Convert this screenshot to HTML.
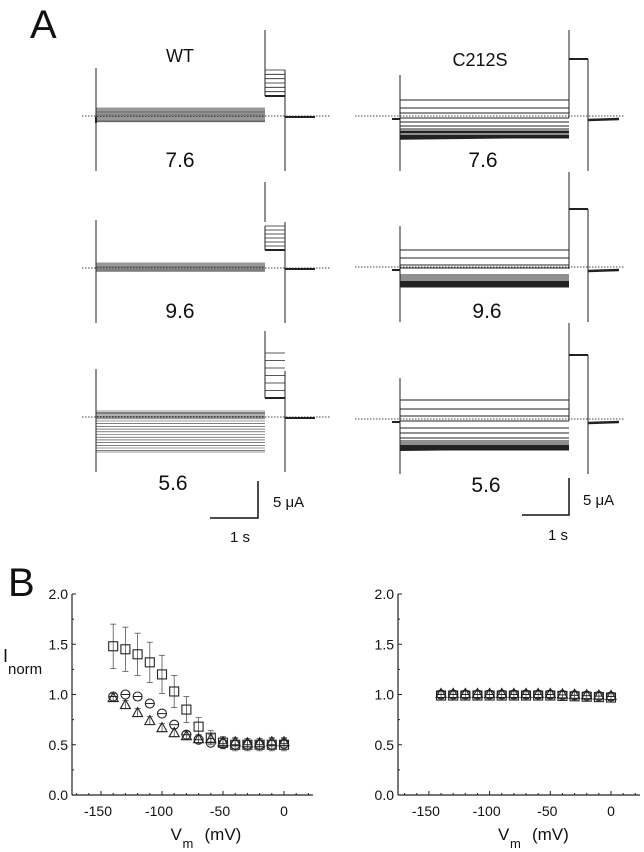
<!DOCTYPE html><html><head><style>body{margin:0;background:#fff}svg{display:block}text{font-family:"Liberation Sans",sans-serif;fill:#111}</style></head><body>
<svg id="s" width="644" height="852" viewBox="0 0 644 852" xmlns="http://www.w3.org/2000/svg">
<text x="30" y="38" font-size="40">A</text>
<text x="8" y="596" font-size="40">B</text>
<text x="180" y="62" font-size="18" text-anchor="middle">WT</text>
<text x="480" y="66" font-size="18" text-anchor="middle">C212S</text>
<g font-size="21" text-anchor="middle">
<text x="180" y="167">7.6</text><text x="180" y="318">9.6</text><text x="173" y="490">5.6</text>
<text x="483" y="167">7.6</text><text x="487" y="318">9.6</text><text x="486" y="492">5.6</text>
</g>
<g stroke="#111" stroke-width="1.5" fill="none">
<path d="M258 481V518H210"/><path d="M569 478V515H522"/>
</g>
<g font-size="15"><text x="273" y="507">5 μA</text><text x="230" y="542">1 s</text>
<text x="583" y="505">5 μA</text><text x="548" y="540">1 s</text></g>
<g id="g"></g>
</svg>
<script>
const g=document.getElementById('g');let h='';
function L(x1,y1,x2,y2,w,c,d){h+=`<line x1="${x1}" y1="${y1}" x2="${x2}" y2="${y2}" stroke="${c||'#222'}" stroke-width="${w||1}" ${d?'stroke-dasharray="'+d+'"':''}/>`;}
function wt(b,lines,boxTop,boxBot){
 L(82,b,330,b,1,'#444','1.5 1.5');
 L(96,b-48,96,b+55,1);
 L(265,b-86,265,b-46,1);
 L(285,b-46,285,b+55,1);
 lines.forEach(y=>L(96,y,265,y,0.6,'#333'));
 L(265,boxBot,265,boxTop,1);
 for(let y=boxTop;y<=boxBot+0.1;y+=(boxBot-boxTop)/6)L(265,y,285,y,0.8);
 L(265,boxBot,285,boxBot,2);
 L(285,b+1,315,b+1,2);
}
let l1=[];for(let i=0;i<12;i++)l1.push(108+i*1.1);l1.push(121,121.8);wt(116,l1,70,96);
let l2=[];for(let i=0;i<8;i++)l2.push(263+i*1.1);l2.push(271.5);wt(268,l2,226,250);
let l3=[];for(let i=0;i<7;i++)l3.push(411+i*1.3);for(let i=0;i<12;i++)l3.push(421+i*2.7);l3.push(452);wt(417,l3,353,398);
L(96,117,96,123,2);
function cs(b,lines,pt,vt){
 L(355,b,625,b,1,'#444','1.5 1.5');
 L(400,b-41,400,b+55,1);
 L(569,vt,569,b+2,1);
 L(569,pt,588,pt,2);
 L(588,pt,588,b+55,1);
 lines.forEach(y=>L(400,y,569,y,0.9));
 L(588,b+4,619,b+3,2.5);
 L(392,b+3,400,b+3,2);
}
cs(116,[100,108,113,118,122,126,129,131,132,133,135,136,137,138],59,30);
cs(267,[250,258,265,268,275,277,279,281,282,283,284,285,286,287],209,172);
cs(419,[400,409,416,421,428,433,438,441,443,445,446,447,448,449,450],355,323);
L(400,450,569,448,2);L(400,139,569,137,1.5);
// plots
function plot(ax,x0,sc,right){
 const y0=795,ys=100.5;const X=v=>x0+v*sc,Y=v=>y0-v*ys;
 L(ax,Y(2),ax,y0,1.2);L(ax,y0,right,y0,1.2);
 for(let v=0;v<=2.001;v+=0.5){L(ax,Y(v),ax+4,Y(v),1);h+=`<text x="${ax-4}" y="${Y(v)+5}" font-size="14" text-anchor="end">${v.toFixed(1)}</text>`;}
 for(let v=0.25;v<2;v+=0.5)L(ax,Y(v),ax+2,Y(v),1);
 for(let v=-150;v<=0;v+=50){L(X(v),y0,X(v),y0-4,1);h+=`<text x="${X(v)+(v?-3:0)}" y="${y0+21}" font-size="14" text-anchor="middle">${v}</text>`;}
 for(let v=-170;v<=20;v+=10)if(v%50)L(X(v),y0,X(v),y0-2,1);
 const c=X(-75);
 h+=`<text x="${c-22}" y="${y0+45}" font-size="17">V</text><text x="${c-10}" y="${y0+53}" font-size="13">m</text><text x="${c+12}" y="${y0+45}" font-size="17">(mV)</text>`;
 return [X,Y];
}
function sq(x,y){h+=`<rect x="${x-4.5}" y="${y-4.5}" width="9" height="9" fill="none" stroke="#222" stroke-width="1.1"/>`;}
function ci(x,y){h+=`<circle cx="${x}" cy="${y}" r="4.5" fill="none" stroke="#222" stroke-width="1.1"/><line x1="${x-4}" y1="${y}" x2="${x+4}" y2="${y}" stroke="#222"/>`;}
function tr(x,y){h+=`<path d="M${x-5} ${y+4}L${x} ${y-5}L${x+5} ${y+4}Z" fill="none" stroke="#222" stroke-width="1.1"/>`;}
function eb(x,y1,y2){L(x,y1,x,y2,0.8,'#555');L(x-3,y1,x+3,y1,0.8,'#555');L(x-3,y2,x+3,y2,0.8,'#555');}
let [X,Y]=plot(72,284,1.22,313);
const S=[1.48,1.45,1.40,1.32,1.20,1.03,.85,.68,.57,.52,.50,.50,.50,.50,.50];
const SE=[.22,.22,.21,.2,.19,.16,.13,.09,.07,.06,.06,.06,.06,.06,.06];
const C=[.98,1.0,.98,.91,.81,.70,.60,.55,.52,.51,.50,.50,.50,.50,.51];
const T=[.97,.90,.82,.74,.67,.62,.59,.56,.56,.53,.53,.52,.52,.53,.53];
for(let i=0;i<15;i++){const v=-140+i*10,x=X(v);
 eb(x,Y(S[i]+SE[i]),Y(S[i]-SE[i]));eb(x,Y(T[i]+.04),Y(T[i]-.04));
 sq(x,Y(S[i]));ci(x,Y(C[i]));tr(x,Y(T[i]));}
h+=`<text x="3" y="662" font-size="18">I</text><text x="8" y="674" font-size="15">norm</text>`;
[X,Y]=plot(398,611,1.214,640);
for(let i=0;i<15;i++){const v=-140+i*10,x=X(v),val=1.0-(i>9?(i-9)*0.004:0);
 eb(x,Y(val+.04),Y(val-.04));sq(x,Y(val-0.01));ci(x,Y(val));tr(x,Y(val+.01));}
g.innerHTML=h;
</script>
</body></html>
